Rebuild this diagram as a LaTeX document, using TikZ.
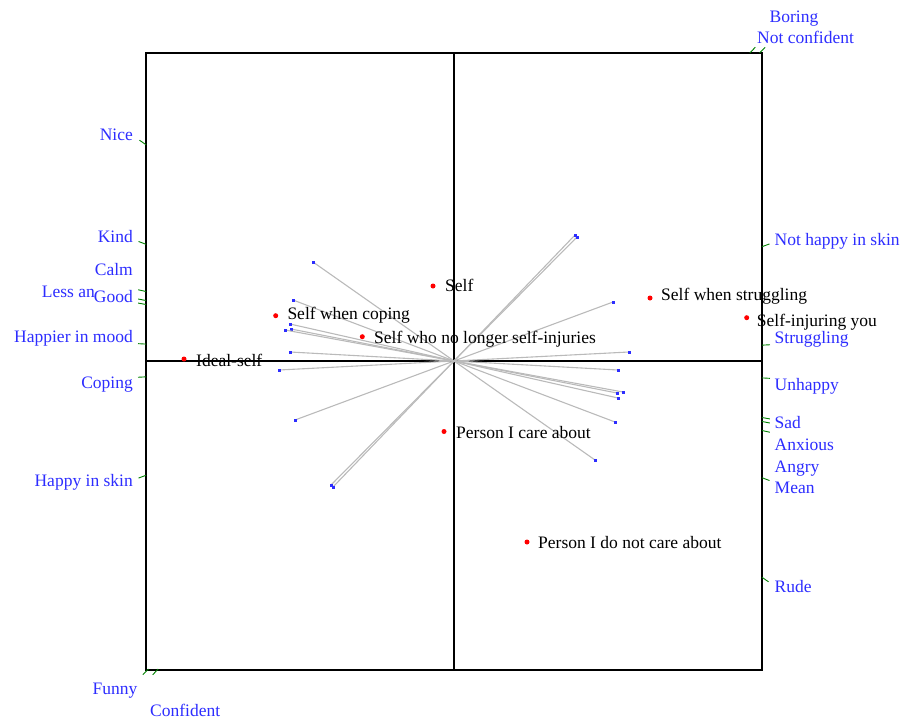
\documentclass[tikz,border=0pt]{standalone}
\usepackage{fontspec}
\setmainfont{Liberation Serif}
\usetikzlibrary{calc}
\definecolor{poleblue}{RGB}{45,45,255}
\definecolor{tickgreen}{RGB}{0,128,0}

\begin{document}
\begin{tikzpicture}[
    x=1pt, y=-1pt,
    every node/.style={font=\fontsize{17.5}{20}\selectfont, inner sep=0pt},
    pole/.style={text=poleblue},
    elem/.style={text=black, anchor=base west},
    vec/.style={draw=black!27, line width=1.1pt},
    ticked/.style={draw=tickgreen, line width=0.9pt},
    elpt/.style={fill=red, circle, minimum size=5pt},
    endpt/.style={fill=poleblue, minimum size=3pt},
    axis/.style={draw=black, line width=1.3pt}
]
    \useasboundingbox (0,0) rectangle (908,720);

    % frame and axes
    \coordinate (nw) at (146,53);
    \coordinate (se) at (762,670);
    \coordinate (o) at (454,361);
    \draw[axis] (nw) rectangle (se);
    \draw[axis] (nw |- o) -- (se |- o);
    \draw[axis] (o |- nw) -- (o |- se);

    % construct vectors, end points and pole ticks
    \foreach \cid/\dx/\dy in {a/121/-126, b/123/-124, c/159/-59, d/175/-9,
        e/164/9, f/163/32, g/169/31, h/164/37, i/161/61, j/141/99} {
        \coordinate (r\cid) at ($(o)+(\dx,\dy)$);
        \coordinate (l\cid) at ($(o)-(\dx,\dy)$);
        \draw[vec] (l\cid) -- (r\cid);
        \pgfmathsetmacro\tin{min(308/abs(\dx),308/abs(\dy))}
        \pgfmathsetmacro\tout{\tin+8/veclen(\dx,\dy)}
        \draw[ticked] ($(o)+\tin*(\dx,\dy)$) -- ($(o)+\tout*(\dx,\dy)$);
        \draw[ticked] ($(o)-\tin*(\dx,\dy)$) -- ($(o)-\tout*(\dx,\dy)$);
        \node[endpt] (pr\cid) at (r\cid) {};
        \node[endpt] (pl\cid) at (l\cid) {};
    }

    % left poles
    \node[pole, anchor=base east] (nice) at (133,140) {Nice};
    \node[pole, anchor=base east] (kind) at (133,242.5) {Kind};
    \node[pole, anchor=base east] (calm) at (133,275) {Calm};
    \node[pole, anchor=base east] (lessan) at (95,297) {Less an};
    \node[pole, anchor=base east] (good) at (133,302.5) {Good};
    \node[pole, anchor=base east] (happier) at (133,342.5) {Happier in mood};
    \node[pole, anchor=base east] (coping) at (133,388.5) {Coping};
    \node[pole, anchor=base east] (happyskin) at (133,486.5) {Happy in skin};
    \node[pole, anchor=base west] (funny) at (92.5,694.5) {Funny};
    \node[pole, anchor=base west] (confident) at (150,716) {Confident};

    % right poles
    \node[pole, anchor=base west] (boring) at (769.5,22) {Boring};
    \node[pole, anchor=base west] (notconf) at (757,43.5) {Not confident};
    \node[pole, anchor=base west] (nothappy) at (774.5,245) {Not happy in skin};
    \node[pole, anchor=base west] (struggling) at (774.5,343.5) {Struggling};
    \node[pole, anchor=base west] (unhappy) at (774.5,390) {Unhappy};
    \node[pole, anchor=base west] (sad) at (774.5,428.5) {Sad};
    \node[pole, anchor=base west] (anxious) at (774.5,450) {Anxious};
    \node[pole, anchor=base west] (angry) at (774.5,472.5) {Angry};
    \node[pole, anchor=base west] (mean) at (774.5,493.5) {Mean};
    \node[pole, anchor=base west] (rude) at (774.5,592.5) {Rude};

    % elements
    \node[elpt] (self) at (433,286) {};
    \node[elem] (selfl) at (445,291.5) {Self};
    \node[elpt] (coping) at (275.7,315.7) {};
    \node[elem] (copingl) at (287.3,319.3) {Self when coping};
    \node[elpt] (nolonger) at (362.3,336.7) {};
    \node[elem] (nolongerl) at (374,343.3) {Self who no longer self-injuries};
    \node[elpt] (ideal) at (184,359) {};
    \node[elem] (ideall) at (196,366.5) {Ideal-self};
    \node[elpt] (struggle) at (650,298) {};
    \node[elem] (strugglel) at (661,300.5) {Self when struggling};
    \node[elpt] (injuring) at (746.7,317.7) {};
    \node[elem] (injuringl) at (756.7,326) {Self-injuring you};
    \node[elpt] (care) at (444,431.5) {};
    \node[elem] (carel) at (456,438.3) {Person I care about};
    \node[elpt] (notcare) at (527,542) {};
    \node[elem] (notcarel) at (538,548) {Person I do not care about};
\end{tikzpicture}
\end{document}
